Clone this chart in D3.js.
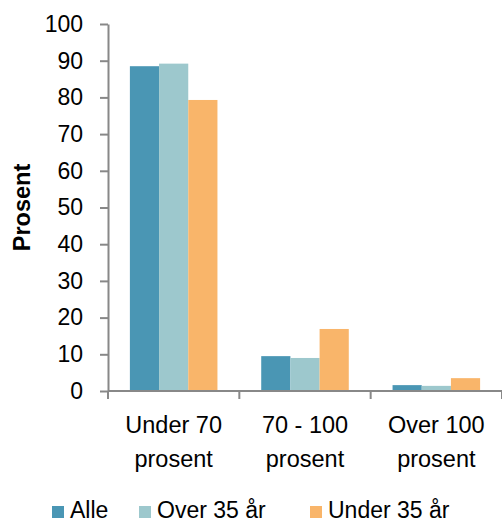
<!DOCTYPE html>
<html><head><meta charset="utf-8">
<script src="https://cdn.jsdelivr.net/npm/d3@7"></script>
<style>body{margin:0;background:#fff}</style>
</head><body>
<script>
const categories = [["Under 70","prosent"],["70 - 100","prosent"],["Over 100","prosent"]];
const seriesNames = ["Alle","Over 35 år","Under 35 år"];
const alle = [88.5, 9.5, 1.6];
const over35 = [89.2, 9.0, 1.4];
const under35 = [79.3, 16.9, 3.5];
const yTicks = [0,10,20,30,40,50,60,70,80,90,100];
const colors = ["#4A96B4","#9DC8CD","#F9B56A"];
const series = [alle, over35, under35];

(function(){
const W = 502, H = 522;
const svg = d3.select("body").append("svg").attr("width", W).attr("height", H);
const mL = 108, mR = 502, mT = 24, mB = 391;
const x = d3.scaleBand().domain(d3.range(categories.length)).range([mL, mR]).paddingInner(0).paddingOuter(0);
const x1 = d3.scaleBand().domain(d3.range(series.length)).range([0, x.bandwidth()]).paddingOuter(0.75).paddingInner(0);
const y = d3.scaleLinear().domain([0,100]).range([mB, mT]);

// bars
series.forEach((s, si) => {
  svg.append("g").selectAll("rect").data(s).join("rect")
    .attr("x", (d,i) => x(i) + x1(si))
    .attr("width", x1.bandwidth())
    .attr("y", d => y(d))
    .attr("height", d => y(0) - y(d))
    .attr("fill", colors[si]);
});

// y axis
const yAxis = d3.axisLeft(y).tickValues(yTicks).tickSize(8).tickSizeOuter(0).tickPadding(17);
const gy = svg.append("g").attr("transform", `translate(${mL},0)`).call(yAxis);
gy.attr("font-family", null).attr("font-size", null);
gy.select(".domain").attr("stroke", "#888").attr("stroke-width", 2);
gy.selectAll(".tick line").attr("stroke", "#888").attr("stroke-width", 2);
gy.selectAll(".tick text").style("font-family", "'Liberation Sans', Arial, sans-serif").style("font-size", "23px").attr("fill", "#000");

// x axis
const xAxisLine = svg.append("g");
xAxisLine.append("line").attr("x1", mL).attr("x2", mR).attr("y1", mB).attr("y2", mB).attr("stroke", "#888").attr("stroke-width", 2);
const boundaries = d3.range(categories.length + 1).map(i => i < categories.length ? x(i) : x(categories.length-1) + x.bandwidth());
xAxisLine.selectAll("line.t").data(boundaries).join("line").attr("class","t")
  .attr("x1", d => d).attr("x2", d => d).attr("y1", mB).attr("y2", mB + 8)
  .attr("stroke", "#888").attr("stroke-width", 2);

categories.forEach((c, i) => {
  const t = svg.append("text").attr("x", x(i) + x.bandwidth()/2).attr("y", 433)
    .attr("text-anchor", "middle").attr("font-family", "'Liberation Sans', Arial, sans-serif").attr("font-size", 23.5).attr("fill", "#000");
  c.forEach((line, li) => t.append("tspan").attr("x", x(i) + x.bandwidth()/2).attr("dy", li === 0 ? 0 : 34).text(line));
});

// y title
svg.append("text").attr("transform", `translate(30,${(mT+mB)/2}) rotate(-90)`)
  .attr("text-anchor", "middle").attr("font-family", "'Liberation Sans', Arial, sans-serif")
  .attr("font-weight", "bold").attr("font-size", 23.5).text("Prosent");

// legend
const legendX = [52, 139, 310];
seriesNames.forEach((n, i) => {
  svg.append("rect").attr("x", legendX[i]).attr("y", 506).attr("width", 12).attr("height", 12).attr("fill", colors[i]);
  svg.append("text").attr("x", legendX[i] + 18).attr("y", 517.5).attr("font-family", "'Liberation Sans', Arial, sans-serif")
    .attr("font-size", 23).attr("fill", "#000").text(n);
});
})();
</script>
</body></html>
